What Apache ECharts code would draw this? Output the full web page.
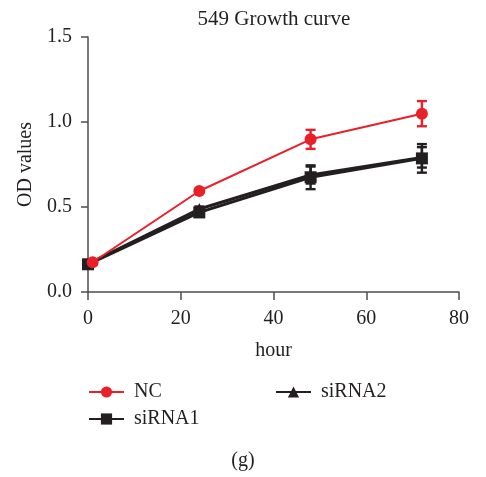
<!DOCTYPE html>
<html><head><meta charset="utf-8">
<script src="https://cdn.jsdelivr.net/npm/echarts@6/dist/echarts.min.js"></script>
<style>html,body{margin:0;padding:0;background:#fff}#c{width:486px;height:477px}</style>
</head><body><div id="c"></div>
<script>
const titleText = '549 Growth curve';
const xTicks = [0, 20, 40, 60, 80];
const yTicks = [0.0, 0.5, 1.0, 1.5];
const seriesNames = ['NC', 'siRNA1', 'siRNA2'];
const ncHours = [1, 24, 48, 72];
const ncValues = [0.175, 0.594, 0.898, 1.049];
const ncErr = [0.01, 0.012, 0.056, 0.074];
const si1Hours = [0, 24, 48, 72];
const si1Values = [0.163, 0.468, 0.675, 0.786];
const si1Err = [0.01, 0.02, 0.07, 0.084];
const si2Hours = [0, 24, 48, 72];
const si2Values = [0.165, 0.488, 0.688, 0.792];
const si2Err = [0.01, 0.015, 0.05, 0.06];

const FONT = 'Liberation Serif';
const FS = 20;
const RED = '#e8202a', BLACK = '#231f20';

function pts(h, v) { return h.map((x, i) => [x, v[i]]); }
function errData(h, v, e) { return h.map((x, i) => [x, v[i] - e[i], v[i] + e[i]]); }
function errSeries(name, h, v, e, color) {
  return {
    type: 'custom', name: name, z: 1, silent: true,
    data: errData(h, v, e),
    renderItem: function (params, api) {
      const x = api.value(0);
      const lo = api.coord([x, api.value(1)]);
      const hi = api.coord([x, api.value(2)]);
      const w = 5;
      const st = { stroke: color, lineWidth: 2.4 };
      return { type: 'group', children: [
        { type: 'line', shape: { x1: lo[0], y1: lo[1], x2: hi[0], y2: hi[1] }, style: st },
        { type: 'line', shape: { x1: lo[0] - w, y1: lo[1], x2: lo[0] + w, y2: lo[1] }, style: st },
        { type: 'line', shape: { x1: hi[0] - w, y1: hi[1], x2: hi[0] + w, y2: hi[1] }, style: st }
      ]};
    }
  };
}

const chart = echarts.init(document.getElementById('c'), null, { renderer: 'canvas' });
chart.setOption({
  backgroundColor: '#fff',
  animation: false,
  title: { text: titleText, left: 269, top: 4, textAlign: 'center',
    textStyle: { fontFamily: FONT, fontSize: 21, fontWeight: 'normal', color: '#231f20' } },
  grid: { left: 88, right: 27, top: 37, bottom: 185 },
  legend: [
    { data: ['NC', 'siRNA1'], orient: 'vertical', left: 83, top: 377, itemGap: 7,
      itemWidth: 35, itemHeight: 14,
      textStyle: { fontFamily: FONT, fontSize: FS, color: '#231f20', padding: [0,0,0,5] } },
    { data: ['siRNA2'], orient: 'vertical', left: 270, top: 377,
      itemWidth: 35, itemHeight: 14,
      textStyle: { fontFamily: FONT, fontSize: FS, color: '#231f20', padding: [0,0,0,5] } }
  ],
  graphic: [{ type: 'text', left: 'center', top: 451, style: { text: '(g)', font: '20px "Liberation Serif"', fill: '#231f20' } }],
  xAxis: {
    type: 'value', min: xTicks[0], max: xTicks[xTicks.length - 1], interval: 20,
    name: 'hour', nameLocation: 'middle', nameGap: 49,
    nameTextStyle: { fontFamily: FONT, fontSize: FS, color: '#231f20' },
    axisLine: { lineStyle: { color: '#4d4d4f', width: 1.5 } },
    axisTick: { show: true, length: 8, lineStyle: { color: '#4d4d4f', width: 1.5 } },
    axisLabel: { fontFamily: FONT, fontSize: FS, color: '#231f20', margin: 17 },
    splitLine: { show: false }
  },
  yAxis: {
    type: 'value', min: yTicks[0], max: yTicks[yTicks.length - 1], interval: 0.5,
    name: 'OD values', nameLocation: 'middle', nameGap: 52, nameRotate: 90,
    nameTextStyle: { fontFamily: FONT, fontSize: FS, color: '#231f20' },
    axisLine: { show: true, lineStyle: { color: '#4d4d4f', width: 1.5 } },
    axisTick: { show: true, length: 7, lineStyle: { color: '#4d4d4f', width: 1.5 } },
    axisLabel: { fontFamily: FONT, fontSize: FS, color: '#231f20', margin: 16,
      formatter: v => v.toFixed(1) },
    splitLine: { show: false }
  },
  series: [
    errSeries('NCerr', ncHours, ncValues, ncErr, RED),
    errSeries('si1err', si1Hours, si1Values, si1Err, BLACK),
    errSeries('si2err', si2Hours, si2Values, si2Err, BLACK),
    { name: 'siRNA2', type: 'line', data: pts(si2Hours, si2Values), symbol: 'triangle', symbolSize: 12,
      lineStyle: { color: BLACK, width: 3 }, itemStyle: { color: BLACK }, z: 3 },
    { name: 'siRNA1', type: 'line', data: pts(si1Hours, si1Values), symbol: 'rect', symbolSize: 12,
      lineStyle: { color: BLACK, width: 3 }, itemStyle: { color: BLACK }, z: 4 },
    { name: 'NC', type: 'line', data: pts(ncHours, ncValues), symbol: 'circle', symbolSize: 12,
      lineStyle: { color: RED, width: 2 }, itemStyle: { color: RED }, z: 5 }
  ]
});
</script></body></html>
